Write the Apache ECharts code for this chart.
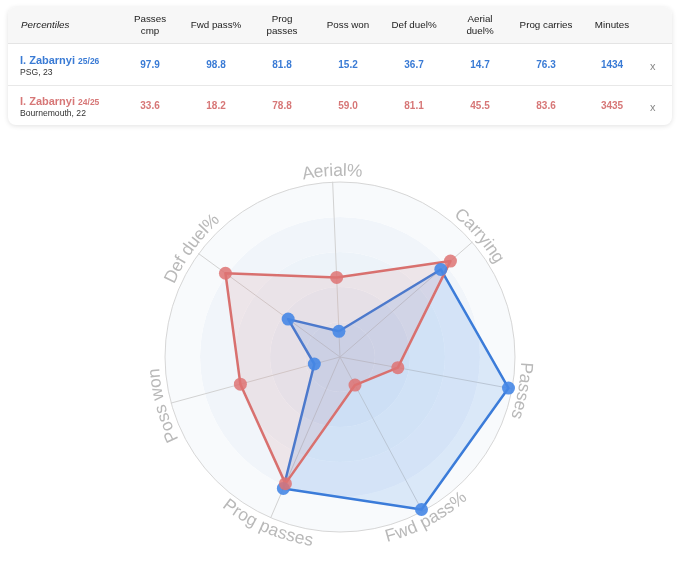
<!DOCTYPE html>
<html>
<head>
<meta charset="utf-8">
<script src="https://cdn.jsdelivr.net/npm/echarts@6/dist/echarts.min.js"></script>
<style>
  html, body { margin:0; padding:0; background:#fff; width:680px; height:564px; overflow:hidden;
    font-family: "Liberation Sans", Arial, Helvetica, sans-serif; }
  #chart { position:absolute; left:0; top:0; width:680px; height:564px; }
  #card { position:absolute; left:8px; top:7px; width:664px; height:118px; border-radius:8px;
    background:#fff; box-shadow:0 1px 5px rgba(0,0,0,0.12); overflow:hidden; z-index:2; }
  .hdr { position:absolute; left:0; top:0; width:664px; height:36px; background:#f7f7f7; border-bottom:1px solid #e4e4e4; }
  .row { position:absolute; left:0; width:664px; height:40px; }
  .sep { border-top:1px solid #e8e8e8; }
  .cell { position:absolute; width:66px; text-align:center; transform:translateY(-50%); }
  .htext { font-size:9.8px; color:#222; line-height:12px; }
  .val { font-size:10px; font-weight:bold; }
  .name { position:absolute; left:12px; font-size:11px; font-weight:bold; }
  .name small { font-size:8.5px; font-weight:bold; }
  .sub { position:absolute; left:12px; font-size:8.6px; color:#333; }
  .xbtn { position:absolute; left:642px; font-size:11px; color:#888; transform:translateY(-50%); }
</style>
</head>
<body>
<div id="chart"></div>
<div id="card"></div>
<script>
// ---- data ----
const tableHeaders = ["Passes<br>cmp", "Fwd pass%", "Prog<br>passes", "Poss won", "Def duel%", "Aerial<br>duel%", "Prog carries", "Minutes"];
const playerNames = ["I. Zabarnyi", "I. Zabarnyi"];
const playerSeasons = ["25/26", "24/25"];
const playerClubs = ["PSG, 23", "Bournemouth, 22"];
const playerColors = ["#3a7bd5", "#d77777"];
const rowValues2526 = ["97.9", "98.8", "81.8", "15.2", "36.7", "14.7", "76.3", "1434"];
const rowValues2425 = ["33.6", "18.2", "78.8", "59.0", "81.1", "45.5", "83.6", "3435"];

// radar axes (ECharts order: counter-clockwise from top)
const radarAxes = ["Aerial%", "Def duel%", "Poss won", "Prog passes", "Fwd pass%", "Passes", "Carrying"];
const radar2526 = [14.7, 36.7, 15.2, 81.8, 98.8, 97.9, 76.3];
const radar2425 = [45.5, 81.1, 59.0, 78.8, 18.2, 33.6, 83.6];

// ---- table ----
const card = document.getElementById('card');
let html = '<div class="hdr"></div>';
html += '<div class="htext" style="position:absolute;left:13px;top:18px;transform:translateY(-50%);font-style:italic;">Percentiles</div>';
tableHeaders.forEach((h, i) => {
  html += '<div class="cell htext" style="left:' + (109 + i * 66) + 'px;top:18px;">' + h + '</div>';
});
const rows = [rowValues2526, rowValues2425];
rows.forEach((vals, r) => {
  const top = 37 + r * 41;
  html += '<div class="row' + (r > 0 ? ' sep' : '') + '" style="top:' + top + 'px;"></div>';
  html += '<div class="name" style="top:' + (top + 10) + 'px;color:' + playerColors[r] + '">' + playerNames[r] + ' <small>' + playerSeasons[r] + '</small></div>';
  html += '<div class="sub" style="top:' + (top + 23) + 'px;">' + playerClubs[r] + '</div>';
  vals.forEach((v, i) => {
    html += '<div class="cell val" style="left:' + (109 + i * 66) + 'px;top:' + (top + 20) + 'px;color:' + playerColors[r] + '">' + v + '</div>';
  });
  html += '<div class="xbtn" style="top:' + (top + 22) + 'px;">x</div>';
});
card.innerHTML = html;

// ---- radar ----
const CX = 340, CY = 357, R = 175, START = 92.4;
const chart = echarts.init(document.getElementById('chart'), null, { renderer: 'canvas' });

// curved axis names along the circle
const labelFont = '17.5px "Liberation Sans", Arial, sans-serif';
const ctx = document.createElement('canvas').getContext('2d');
ctx.font = labelFont;
const LR = 186;
const graphics = [];
radarAxes.forEach((name, k) => {
  const mathDeg = START + k * 360 / radarAxes.length;
  const theta = (90 - mathDeg) * Math.PI / 180; // clockwise from top
  const flip = Math.cos(theta) < -0.5;
  const total = ctx.measureText(name).width;
  let s = 0;
  for (const ch of name) {
    const w = ctx.measureText(ch).width;
    const off = (s + w / 2 - total / 2) / LR;
    const phi = flip ? theta - off : theta + off;
    const x = CX + LR * Math.sin(phi);
    const y = CY - LR * Math.cos(phi);
    const rot = flip ? -(phi - Math.PI) : -phi;
    graphics.push({
      type: 'text', x: x, y: y, rotation: rot, silent: true,
      style: { text: ch, font: labelFont, fill: '#b9b9b9', align: 'center', verticalAlign: 'middle' }
    });
    s += w;
  }
});

chart.setOption({
  animation: false,
  radar: {
    center: [CX, CY],
    radius: R,
    startAngle: START,
    shape: 'circle',
    splitNumber: 5,
    indicator: radarAxes.map(n => ({ name: n, min: 0, max: 100 })),
    axisName: { show: false },
    axisLine: { lineStyle: { color: '#d2d2d2', width: 1 } },
    splitLine: { lineStyle: { color: ['rgba(0,0,0,0)', 'rgba(0,0,0,0)', 'rgba(0,0,0,0)', 'rgba(0,0,0,0)', 'rgba(0,0,0,0)', '#d6d6d6'], width: 1 } },
    splitArea: { show: true, areaStyle: { color: ['#e6eef7', '#e9f0f8', '#edf3f9', '#f1f5fa', '#f8fafc'] } }
  },
  series: [{
    type: 'radar',
    symbol: 'circle',
    symbolSize: 13,
    data: [
      {
        value: radar2526, name: '25/26',
        lineStyle: { color: '#3a7ad8', width: 2.5 },
        itemStyle: { color: 'rgba(70,135,230,0.9)' },
        areaStyle: { color: 'rgba(70,140,232,0.24)' }
      },
      {
        value: radar2425, name: '24/25',
        lineStyle: { color: '#d9716f', width: 2.5 },
        itemStyle: { color: 'rgba(222,115,115,0.85)' },
        areaStyle: { color: 'rgba(215,110,110,0.17)' }
      }
    ]
  }],
  graphic: graphics
});
</script>
</body>
</html>
